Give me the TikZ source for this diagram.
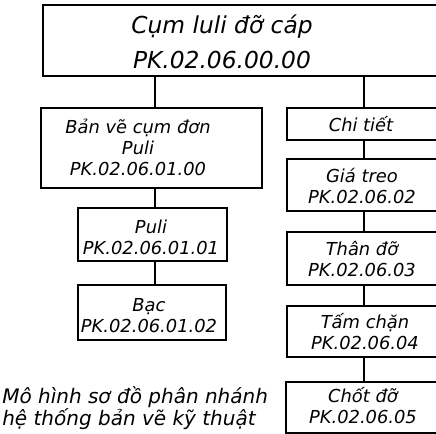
\documentclass[tikz,border=0pt]{standalone}
\usepackage{fontspec}
\setmainfont{DejaVu Sans}
\begin{document}
\begin{tikzpicture}[x=0.75pt,y=-0.75pt,
  box/.style={draw,line width=1.7pt,inner sep=0pt,outer sep=0pt,rectangle},
  txt/.style={align=center,inner sep=0pt,font=\itshape\fontsize{13.4}{15.75}\selectfont},
  bigtxt/.style={align=center,inner sep=0pt,font=\itshape\fontsize{17.5}{26.25}\selectfont},
  captxt/.style={align=left,inner sep=0pt,font=\itshape\fontsize{15}{15}\selectfont},
  link/.style={line width=1.7pt}]
\useasboundingbox (0,0) rectangle (436,434);
\clip (0,0) rectangle (436,434);
% boxes
\node[box,minimum width=301.5pt,minimum height=53.25pt] (top) at (244,40.5) {};
\node[box,minimum width=165.75pt,minimum height=60pt] (lb) at (151.5,148) {};
\node[box,minimum width=111.75pt,minimum height=39.75pt] (puli) at (152.5,234.5) {};
\node[box,minimum width=111pt,minimum height=41.25pt] (bac) at (152,312.5) {};
\node[box,minimum width=118.5pt,minimum height=24pt] (ct) at (366,124) {};
\node[box,minimum width=118.5pt,minimum height=39pt] (gia) at (366,185) {};
\node[box,minimum width=118.5pt,minimum height=39.75pt] (than) at (366,258.5) {};
\node[box,minimum width=118.5pt,minimum height=38.25pt] (tam) at (366,331.5) {};
\node[box,minimum width=119.25pt,minimum height=38.25pt] (chot) at (365.5,407.5) {};
% texts
\node[bigtxt] (ttop) at (222,42) {Cụm luli đỡ cáp\\PK.02.06.00.00};
\node[txt] (tlb) at (138,147) {Bản vẽ cụm đơn\\Puli\\PK.02.06.01.00};
\node[txt] (tpuli) at (151,237) {Puli\\PK.02.06.01.01};
\node[txt] (tbac) at (149,316) {Bạc\\PK.02.06.01.02};
\node[txt] (tct) at (361,124) {Chi tiết};
\node[txt] (tgia) at (362,186) {Giá treo\\PK.02.06.02};
\node[txt] (tthan) at (362,259) {Thân đỡ\\PK.02.06.03};
\node[txt] (ttam) at (365,332) {Tấm chặn\\PK.02.06.04};
\node[txt] (tchot) at (363,406) {Chốt đỡ\\PK.02.06.05};
\node[captxt,anchor=west] (cap) at (2,408) {Mô hình sơ đồ phân nhánh\\hệ thống bản vẽ kỹ thuật};
% connectors
\coordinate (cl) at (155,0);
\coordinate (cr) at (364,0);
\draw[link] (top.south -| cl) -- (lb.north -| cl);
\draw[link] (top.south -| cr) -- (ct.north -| cr);
\draw[link] (lb.south -| cl) -- (puli.north -| cl);
\draw[link] (puli.south -| cl) -- (bac.north -| cl);
\draw[link] (ct.south -| cr) -- (gia.north -| cr);
\draw[link] (gia.south -| cr) -- (than.north -| cr);
\draw[link] (than.south -| cr) -- (tam.north -| cr);
\draw[link] (tam.south -| cr) -- (chot.north -| cr);
\end{tikzpicture}
\end{document}
